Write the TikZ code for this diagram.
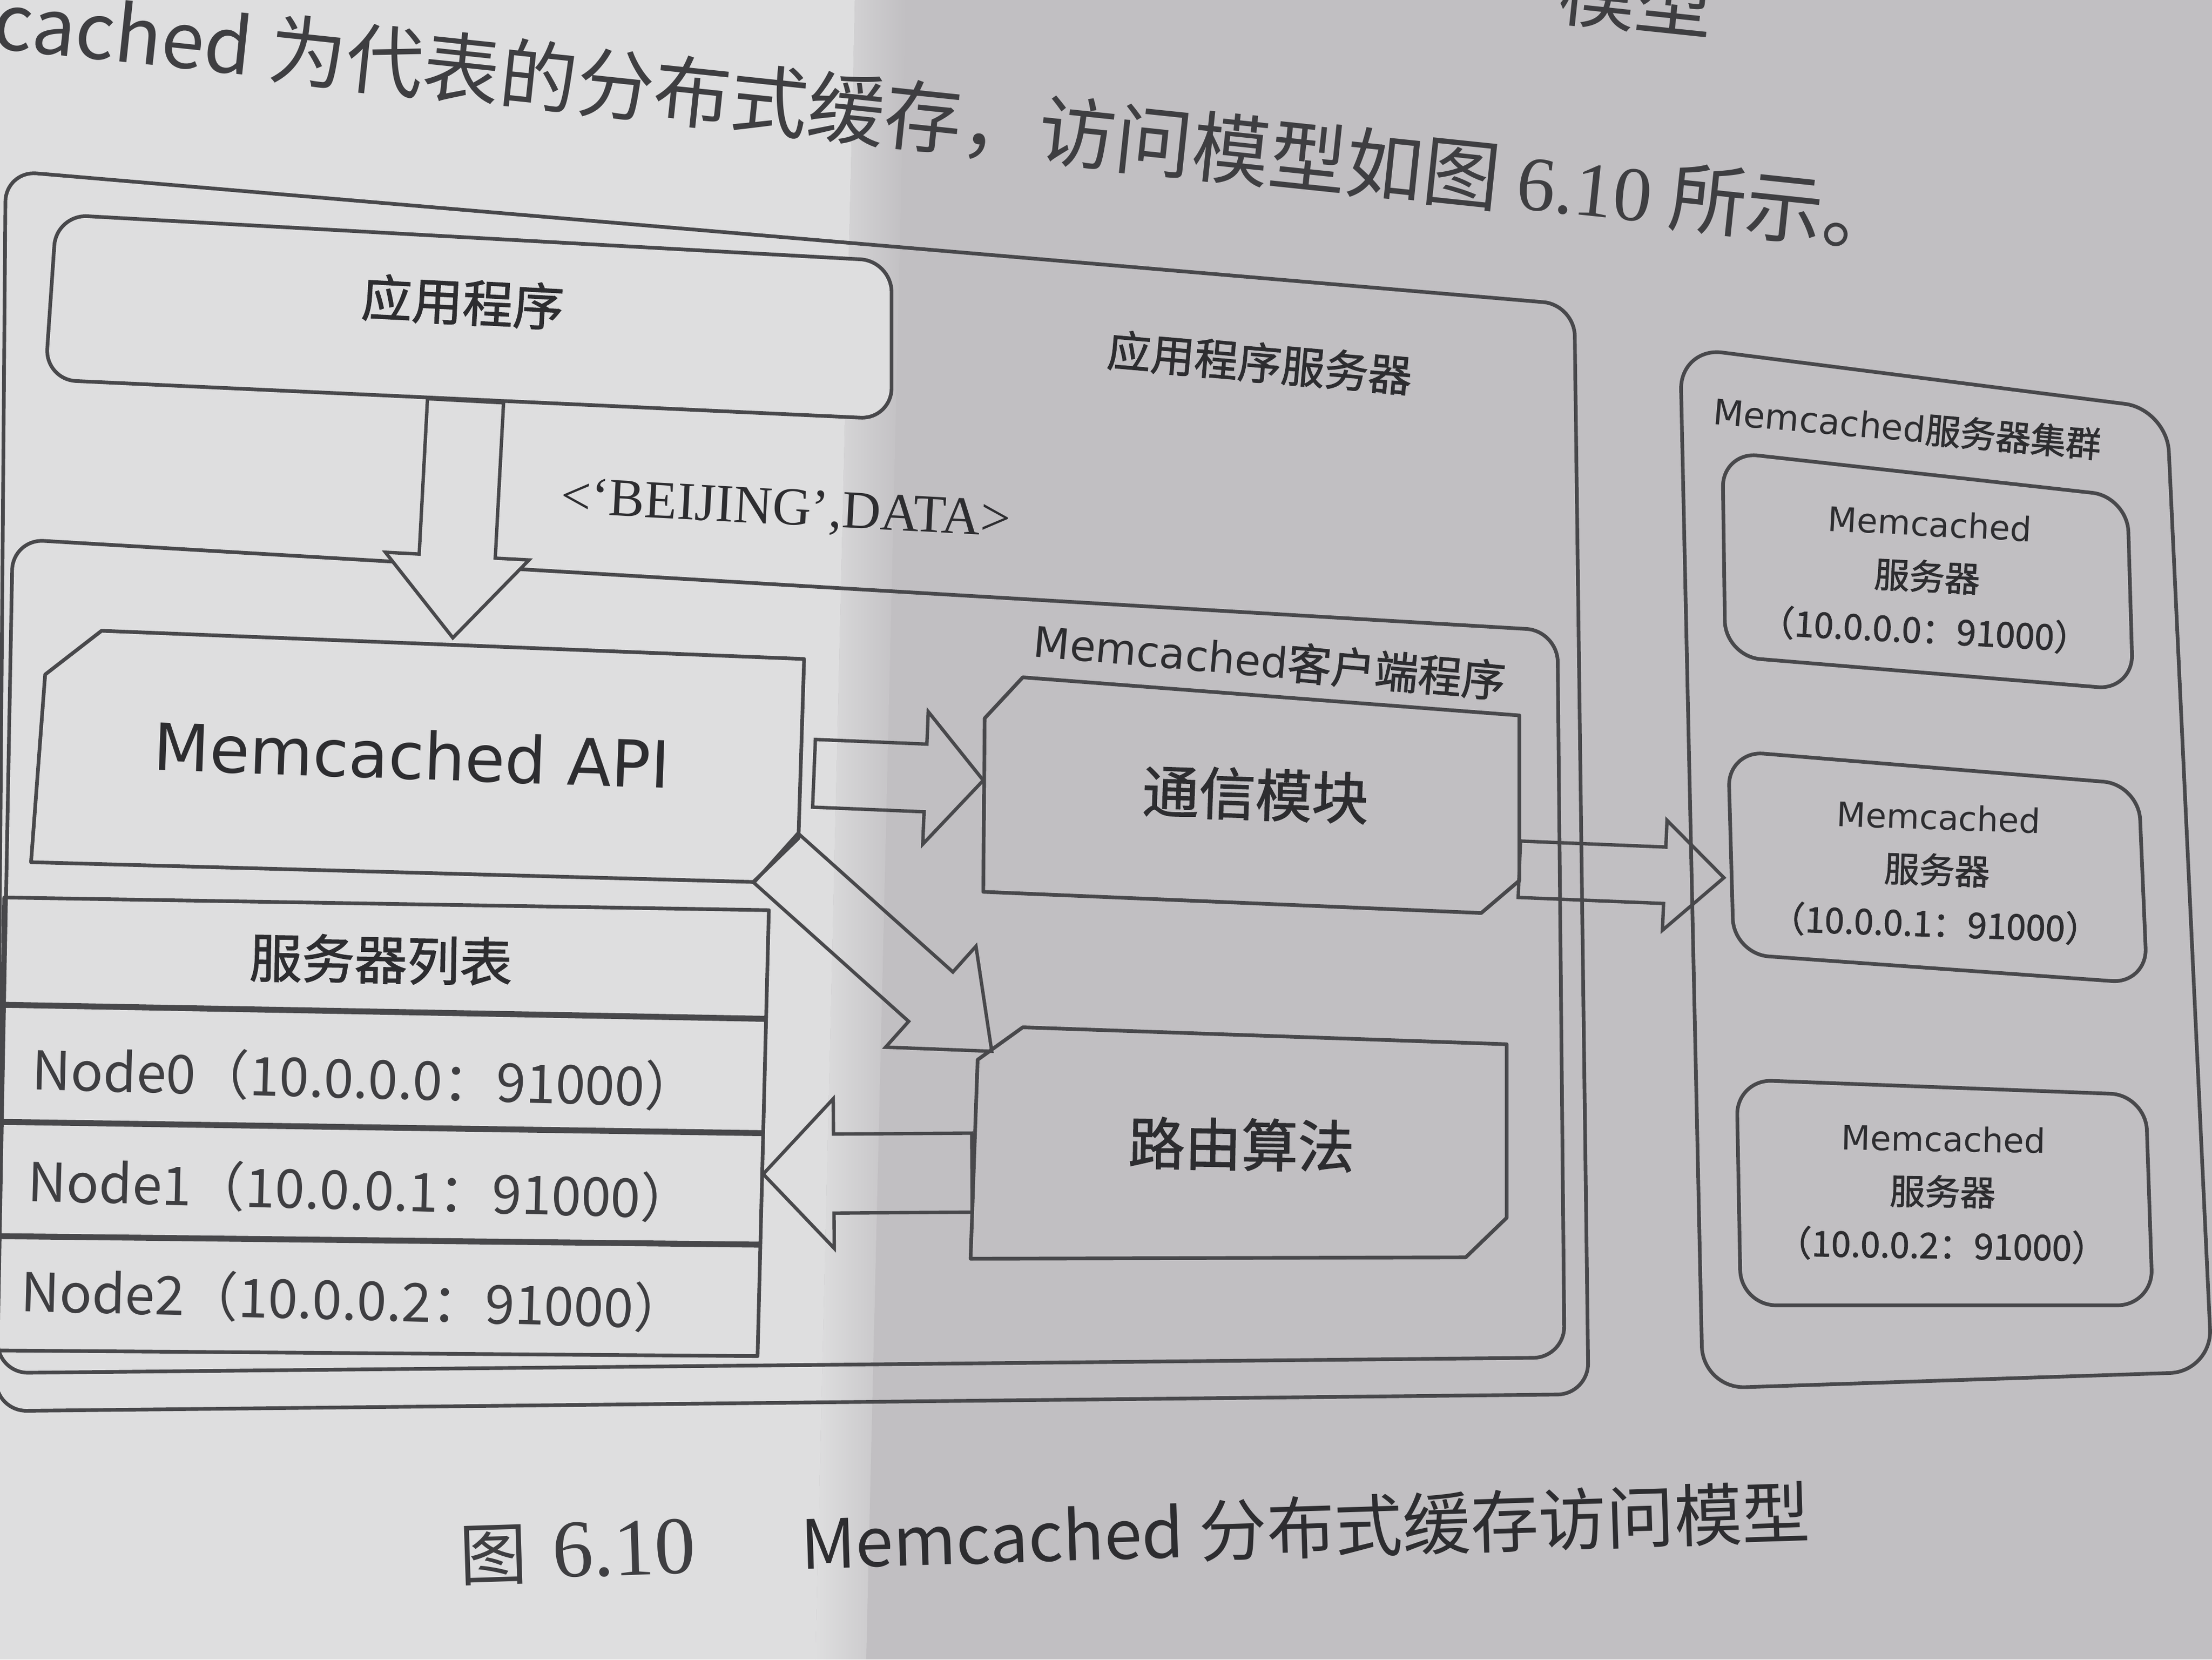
\documentclass[tikz,border=0pt]{standalone}
\usepackage{fontspec}
\setmainfont{Noto Sans CJK SC}
\newfontfamily\cjkf{Noto Sans CJK SC}
\newfontfamily\cjkbf{Noto Sans CJK SC}[FakeBold=1.5]
\newfontfamily\latsans{DejaVu Sans}
\newfontfamily\latserif{Liberation Serif}
\usetikzlibrary{calc}
\definecolor{bgL}{RGB}{222,222,223}
\definecolor{bgR}{RGB}{193,191,194}
\definecolor{lc}{RGB}{72,72,75}
\definecolor{tc}{RGB}{45,45,48}
\definecolor{tc2}{RGB}{62,62,65}
\newcommand\setfs[1]{\fontsize{#1pt}{#1pt}\selectfont}
% block arrow: [options]{start}{end}{half shaft}{half head}{head length}
\newcommand\blockarrow[6][]{%
  \coordinate (ba-h) at ($(#3)!#6!(#2)$);
  \draw[barrow,#1] ($(#2)!#4!90:(#3)$) -- ($(ba-h)!#4!-90:(#2)$) -- ($(ba-h)!#5!-90:(#2)$)
    -- (#3) -- ($(ba-h)!#5!90:(#2)$) -- ($(ba-h)!#4!90:(#2)$) -- ($(#2)!#4!-90:(#3)$) -- cycle;}
\tikzset{
  box/.style={draw=lc, line width=2.6mm, line join=round},
  rbox/.style={box, rounded corners=22mm},
  barrow/.style={draw=lc, line width=2.4mm, line join=miter},
  lbl/.style={text=tc, inner sep=0pt},
}
\begin{document}
\begin{tikzpicture}[x=1mm,y=-1mm]
\useasboundingbox (0,0) rectangle (1568,1176);
\begin{scope}
\clip (0,0) rectangle (1568,1176);
% paper background (lit left part, shaded right part)
\fill[bgR] (0,0) rectangle (1568,1176);
\fill[bgL] (0,0) -- (606,0) -- (578,1176) -- (0,1176) -- cycle;
\shade[left color=bgL, right color=bgR] (606,0) -- (642,0) -- (614,1176) -- (578,1176) -- cycle;

% text of the page above the figure
\node[lbl, rotate=-6, font=\cjkf\setfs{156}, text=tc2] (prevline) at (1160,-2) {模型};
\node[lbl, anchor=west, rotate=-6, font=\cjkf\setfs{156}, text=tc2] (intro) at (-4,14)
  {cached 为代表的分布式缓存，访问模型如图 {\latserif 6.10} 所示。};

% application server container
\draw[rbox] (4,121) -- (1116,216) -- (1126,988) -- (-3,1000) -- cycle;
\node[lbl, rotate=-5, font=\cjkbf\setfs{88}] (appsrv) at (893,257) {应用程序服务器};

% memcached client container
\draw[rbox] (9,382) -- (1104,447) -- (1109,962) -- (-2,973) -- cycle;
\node[lbl, rotate=-5] (client) at (900,468)
  {{\latsans\setfs{85}Memcached}{\cjkbf\setfs{88}客户端程序}};

% arrow from the application down to the API
\coordinate (a1s) at (330,284);
\coordinate (a1e) at (321,452);
\blockarrow[fill=bgL]{a1s}{a1e}{27mm}{51mm}{58mm}

% application
\draw[rbox, fill=bgL] (40,152) -- (632,185) -- (632,297) -- (32,269) -- cycle;
\node[lbl, rotate=-3, font=\cjkbf\setfs{102}] (app) at (328,214) {应用程序};
\node[lbl, rotate=-3, font=\latserif\setfs{108}] (kv) at (557,362) {<‘BEIJING’,DATA>};

% Memcached API
\draw[box] (72,447) -- (570,467) -- (566,594) -- (534,625) -- (22,611) -- (32,478) -- cycle;
\node[lbl, rotate=-2, font=\latsans\setfs{131}] (api) at (292,535) {Memcached API};

% server list table
\draw[box] (3,636) -- (545,645) -- (537,961) -- (-3,957) -- cycle;
\draw[box, line width=4.2mm] (0,712) -- (543,722);
\draw[box, line width=4.2mm] (0,795) -- (540,803);
\draw[box, line width=4.2mm] (0,876) -- (538,882);
\node[lbl, rotate=-1, font=\cjkbf\setfs{106}] (list) at (270,680) {服务器列表};
\node[lbl, rotate=-1.5, font=\cjkf\setfs{108}, text=tc2] (node0) at (259,764) {Node0（10.0.0.0：91000）};
\node[lbl, rotate=-1.5, font=\cjkf\setfs{108}, text=tc2] (node1) at (256,843) {Node1（10.0.0.1：91000）};
\node[lbl, rotate=-1.5, font=\cjkf\setfs{108}, text=tc2] (node2) at (251,921) {Node2（10.0.0.2：91000）};

% communication module
\draw[box] (725,480) -- (1077,507) -- (1077,624) -- (1050,647) -- (697,632) -- (698,509) -- cycle;
\node[lbl, rotate=-2, font=\cjkbf\setfs{114}] (comm) at (890,563) {通信模块};

% routing algorithm
\draw[box] (725,728) -- (1068,740) -- (1068,863) -- (1039,891) -- (688,892) -- (693,751) -- cycle;
\node[lbl, rotate=-1, font=\cjkbf\setfs{114}] (route) at (880,811) {路由算法};

% memcached server cluster
\draw[box, rounded corners=30mm] (1191,246) -- (1536,290) -- (1568,972) -- (1207,984) -- cycle;
\node[lbl, rotate=-5] (cluster) at (1352,303)
  {{\latsans\setfs{71}Memcached}{\cjkbf\setfs{71}服务器集群}};

\draw[box, rounded corners=25mm] (1221,320) -- (1508,352) -- (1512,489) -- (1223,465) -- cycle;
\node[lbl, rotate=-3, align=center, font=\cjkbf\fontsize{71pt}{108pt}\selectfont] (s0) at (1366,410)
  {{\latsans\fontsize{68pt}{108pt}\selectfont Memcached}\\服务器\\（10.0.0.0：91000）};

\draw[box, rounded corners=25mm] (1225,532) -- (1516,556) -- (1522,697) -- (1229,676) -- cycle;
\node[lbl, rotate=-2, align=center, font=\cjkbf\fontsize{71pt}{108pt}\selectfont] (s1) at (1373,618)
  {{\latsans\fontsize{68pt}{108pt}\selectfont Memcached}\\服务器\\（10.0.0.1：91000）};

\draw[box, rounded corners=25mm] (1231,765) -- (1521,776) -- (1526,925) -- (1234,925) -- cycle;
\node[lbl, rotate=-1, align=center, font=\cjkbf\fontsize{71pt}{108pt}\selectfont] (s2) at (1377,846)
  {{\latsans\fontsize{68pt}{108pt}\selectfont Memcached}\\服务器\\（10.0.0.2：91000）};

% connectors (block arrows)
\coordinate (a2s) at (577,548);
\coordinate (a2e) at (697,553);
\blockarrow{a2s}{a2e}{24mm}{47mm}{41mm}
\coordinate (a3s) at (550,608);
\coordinate (a3e) at (703,745);
\blockarrow{a3s}{a3e}{23.5mm}{48mm}{58mm}
\coordinate (a4s) at (689,831);
\coordinate (a4e) at (541,832);
\blockarrow{a4s}{a4e}{28mm}{53mm}{50mm}
\coordinate (a5s) at (1077,616);
\coordinate (a5e) at (1222,622);
\blockarrow{a5s}{a5e}{20mm}{39mm}{42mm}

% caption
\node[lbl, anchor=base west, rotate=1.8, font=\cjkf\setfs{137}, text=tc2] (figno) at (326,1120)
  {图\hspace{18mm}{\latserif\setfs{165}6.10}};
\node[lbl, anchor=base west, rotate=1.8, font=\cjkf\setfs{137}] (figtitle) at (568,1112)
  {Memcached 分布式缓存访问模型};
\end{scope}
\end{tikzpicture}
\end{document}
